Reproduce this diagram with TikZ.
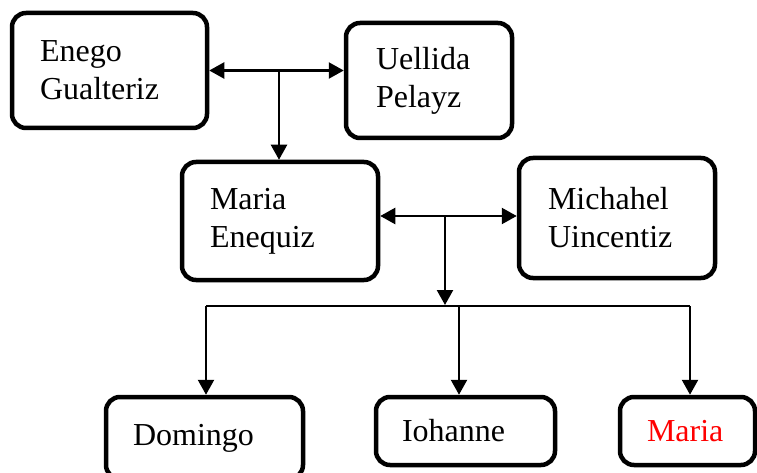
\documentclass[tikz,border=0pt]{standalone}
\usepackage{fontspec}
\setmainfont{Liberation Serif}
\usetikzlibrary{arrows.meta, calc}
\definecolor{namered}{HTML}{FF0000}
\tikzset{
  person/.style={draw=black, line width=4.5pt, rounded corners=14pt, align=left,
                 inner ysep=0pt, font=\fontsize{32}{38}\selectfont},
  flow/.style={-{Triangle[length=15pt, width=16pt]}, line width=2.4pt},
  biflow/.style={{Triangle[length=15pt, width=16pt]}-{Triangle[length=15pt, width=16pt]}, line width=2.4pt},
  bar/.style={line width=1.8pt},
}
\begin{document}
\begin{tikzpicture}[x=1pt, y=-1pt]
  \useasboundingbox (0,0) rectangle (757,473);
  % parents and their daughter
  \node[person, minimum height=115pt, inner xsep=28pt, text width=139pt] (enego) at (109.5,70.5) {Enego\\Gualteriz};
  \node[person, minimum height=115pt, inner xsep=30pt, text width=106pt] (uellida) at (429,80.5) {Uellida\\Pelayz};
  \node[person, minimum height=118pt, inner xsep=28pt, text width=140pt] (mariaE) at (280,221) {Maria\\Enequiz};
  \node[person, minimum height=120pt, inner xsep=29pt, text width=138pt] (michahel) at (617,218) {Michahel\\Uincentiz};
  % children
  \node[person, minimum height=82pt, inner xsep=27pt, text width=143pt] (domingo) at (204.5,438) {Domingo};
  \node[person, minimum height=68pt, inner xsep=26pt, text width=127pt] (iohanne) at (465.5,431) {Iohanne};
  \node[person, minimum height=68pt, inner xsep=27pt, text width=81pt, text=namered] (maria) at (687.5,431) {Maria};

  \coordinate (j1) at (279,70.5);
  \coordinate (j2) at (445,216);
  \coordinate (j3) at (445,305);
  \coordinate (barL) at (206,306);
  \coordinate (barM) at (459,306);
  \coordinate (barR) at (690,306);

  \draw[biflow] (enego.east) -- (enego.east -| uellida.west);
  \draw[flow] (j1) -- (j1 |- mariaE.north);
  \draw[biflow] (mariaE.east |- j2) -- (michahel.west |- j2);
  \draw[flow] (j2) -- (j3);
  \draw[bar] (barL) -- (barR);
  \draw[flow] (barL) -- (barL |- domingo.north);
  \draw[flow] (barM) -- (barM |- iohanne.north);
  \draw[flow] (barR) -- (barR |- maria.north);
\end{tikzpicture}
\end{document}
